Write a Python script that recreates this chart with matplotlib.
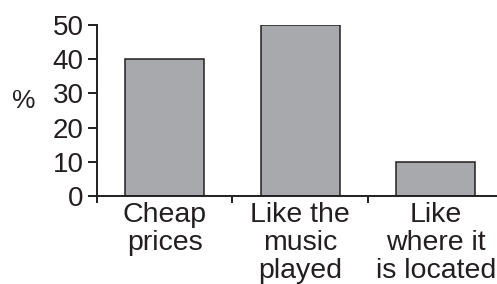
import matplotlib.pyplot as plt
import numpy as np

# Data
categories = ['Cheap\nprices', 'Like the\nmusic\nplayed', 'Like\nwhere it\nis located']
percent = [40, 50, 10]
y_ticks = [0, 10, 20, 30, 40, 50]

plt.rcParams['font.family'] = ['Liberation Sans', 'DejaVu Sans']

ink = '#231f20'
fig = plt.figure(figsize=(4.97, 2.84), dpi=100)
ax = fig.add_axes([97 / 497, 88 / 284, 406.5 / 497, 171 / 284])

x = np.arange(len(categories)) + 0.5
ax.bar(x, percent, width=0.58, color='#a7a9ac', edgecolor=ink, linewidth=1.1, zorder=2)

ax.set_xlim(0, 3)
ax.set_ylim(0, 50)

# spines
for s in ['top', 'right']:
    ax.spines[s].set_visible(False)
for s in ['left', 'bottom']:
    ax.spines[s].set_color(ink)
    ax.spines[s].set_linewidth(1.4)
    ax.spines[s].set_zorder(3)

ax.set_yticks(y_ticks)
ax.tick_params(axis='y', length=6.5, width=1.4, color=ink, labelsize=20,
               labelcolor=ink, pad=3)

# category labels at centres, separator ticks at boundaries
ax.set_xticks(x)
ax.set_xticklabels(categories, linespacing=1.1)
ax.set_xticks([0, 1, 2, 3], minor=True)
ax.tick_params(axis='x', which='major', length=0, labelsize=20.5, labelcolor=ink, pad=4)
ax.tick_params(axis='x', which='minor', length=5, width=1.4, color=ink)

fig.text(24 / 497, 1 - 101 / 284, '%', fontsize=19, color=ink, ha='center', va='center')

plt.savefig('out.png', dpi=100)
